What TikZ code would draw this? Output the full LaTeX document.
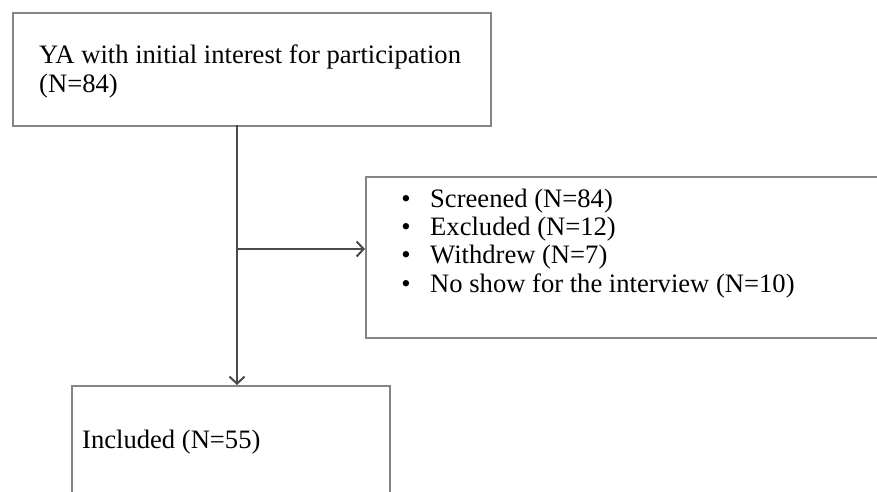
\documentclass[tikz,border=0pt]{standalone}
\usepackage{fontspec}
\setmainfont{Liberation Serif}
\usetikzlibrary{arrows.meta}
\definecolor{boxgray}{HTML}{858585}
\definecolor{linegray}{HTML}{4A4A4A}
\tikzset{
  box/.style={draw=boxgray, line width=2.4pt, fill=white, inner sep=0pt, anchor=north west},
  lbl/.style={anchor=base west, inner sep=0pt, font=\fontsize{26.6}{28}\selectfont, text=black},
  conn/.style={draw=linegray, line width=2.2pt, -{Straight Barb[length=7pt, width=15pt, line width=2pt]}}
}
\begin{document}
\begin{tikzpicture}[x=1pt, y=-1pt]
\useasboundingbox (0,0) rectangle (877,491);
\fill[white] (0,0) rectangle (877,491);
% boxes
\node[box, minimum width=478pt, minimum height=113pt] (top) at (12,12) {};
\node[box, minimum width=560pt, minimum height=161pt] (right) at (365,176) {};
\node[box, minimum width=318pt, minimum height=160pt] (bottom) at (71,385) {};
% texts
\node[lbl] (t1) at (39,63) {YA with initial interest for participation};
\node[lbl] (t2) at (39,92) {(N=84)};
\node[lbl] (b1) at (430,207) {Screened (N=84)};
\node[lbl] (b2) at (430,235) {Excluded (N=12)};
\node[lbl] (b3) at (430,263) {Withdrew (N=7)};
\node[lbl] (b4) at (430,292) {No show for the interview (N=10)};
\foreach \y/\n in {207/1,235/2,263/3,292/4}
  \node[lbl, anchor=base] (d\n) at (406,\y) {\textbullet};
\node[lbl] (inc) at (82,448) {Included (N=55)};
% connectors
\coordinate (topout) at (237,125);
\coordinate (split) at (237,249);
\coordinate (botin) at (237,385);
\draw[conn] (topout) -- (botin);
\draw[conn] (split) -- (split -| right.west);
\end{tikzpicture}
\end{document}
